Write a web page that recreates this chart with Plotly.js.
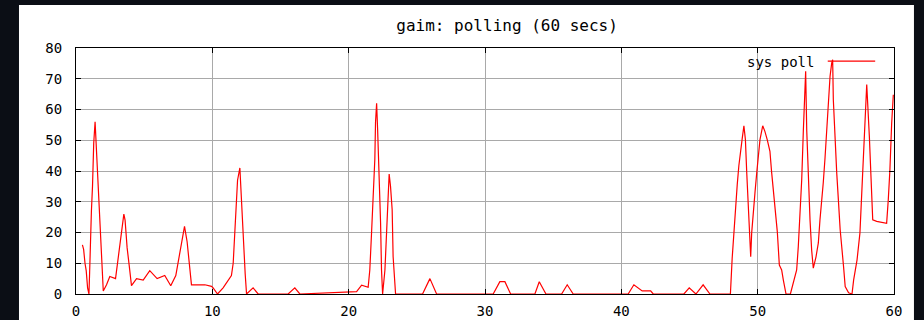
<!DOCTYPE html>
<html>
<head>
<meta charset="utf-8">
<script src="https://cdn.plot.ly/plotly-3.0.1.min.js"></script>
<style>
html,body{margin:0;padding:0;background:#0b0e15;}
#chart{width:924px;height:320px;}
</style>
</head>
<body>
<div id="chart"></div>
<script>
// Series "sys poll": time (secs) and value
var seriesName = "sys poll";
var timeSecs = [
  0.47, 0.56, 0.66, 0.75, 0.85, 0.95, 1.0, 1.07, 1.13, 1.21, 1.3, 1.4, 1.45, 1.5, 1.62, 1.72, 1.82, 1.92, 2.0,
  2.24, 2.48, 2.9, 3.14, 3.29, 3.51, 3.6, 3.75, 3.9, 4.07, 4.44, 4.93, 5.41, 5.95, 6.51, 6.95, 7.32, 7.62,
  7.96, 8.15, 8.47, 9.45, 9.94, 10.06, 10.38, 10.79, 11.11, 11.4, 11.53, 11.72, 11.85, 12.02, 12.14, 12.26,
  12.41, 12.51, 12.99, 13.36, 15.56, 16.05, 16.42, 20.58, 20.95, 21.43, 21.55, 21.68, 21.8, 21.92, 21.97,
  22.05, 22.12, 22.24, 22.34, 22.41, 22.49, 22.66, 22.78, 22.9, 22.97, 23.07, 23.19, 23.26, 23.44,
  25.42, 25.96, 26.45, 30.6, 31.09, 31.46, 31.88, 33.66, 33.98, 34.47, 35.62, 36.03, 36.47,
  40.5, 40.92, 41.53, 42.15, 42.34, 44.59, 44.98, 45.47, 46.0, 46.5, 48.0,
  48.13, 48.25, 48.38, 48.5, 48.62, 48.75, 48.87, 48.99, 49.1, 49.2, 49.3, 49.4, 49.49, 49.56, 49.68, 49.8,
  49.93, 50.05, 50.17, 50.37, 50.53, 50.7, 50.9, 51.02, 51.14, 51.27, 51.44, 51.59, 51.76, 51.88, 52.08,
  52.4, 52.6, 52.86, 52.98, 53.23, 53.35, 53.47, 53.52, 53.6, 53.72, 53.84, 53.96, 54.08, 54.28, 54.45,
  54.57, 54.7, 54.81, 54.94, 55.06, 55.19, 55.31, 55.43, 55.5, 55.55, 55.67, 55.8, 55.92, 56.05, 56.3,
  56.42, 56.67, 56.92, 57.04, 57.29, 57.5, 57.6, 57.8, 58.0, 58.19, 58.29, 58.44, 58.73, 59.46, 59.58,
  59.7, 59.83, 59.95
];
var pollValues = [
  16, 14.5, 10, 7.5, 2, 0, 7, 20, 27, 35, 49, 56, 51, 50, 39, 28, 17, 6.5, 1,
  3, 5.7, 5, 14, 19, 26, 24, 15, 9.4, 2.7, 5, 4.5, 7.6, 5, 6, 2.7, 6, 13.3,
  22, 17, 3, 3, 2.5, 2, 0, 2, 4, 6, 10, 24, 37, 41, 29, 20,
  6.5, 0, 2, 0, 0, 2, 0, 0.8, 2.9, 2.2, 7.8, 20, 31.9, 43.9, 55.8,
  62, 54, 38.8, 23.2, 7.8, 0, 7.8, 19.8, 35, 39, 35, 27.4, 12.2, 0,
  0, 5, 0, 0, 4, 4, 0, 0, 4, 0, 0, 3, 0,
  0, 3, 1, 1, 0, 0, 2, 0, 3, 0, 0,
  11.6, 19.8, 29.5, 35.5, 41.7, 47.4, 50.7, 54.7, 50.2, 39.3, 29.5, 17.6, 12.1, 19.8, 27.4, 32.8,
  39.3, 45.3, 50.2, 54.7, 52.9, 50.2, 46.4, 39.8, 33.9, 27.4, 20.3, 9.4, 7.8, 4.6, 0,
  0, 3.5, 7.8, 15.4, 37.1, 53.1, 68.6, 72.4, 53.1, 37.1, 24.1, 14.3, 8.4, 12.1, 16.6,
  24.1, 29.5, 36.1, 44.2, 53.1, 62.6, 70.8, 75.1, 76.2, 63.2, 50.2, 39.3, 30.6, 21, 8.9,
  2.4, 0.4, 0, 4.6, 11.1, 19.8, 30.1, 51.5, 68.1, 51.5, 40.9, 24.1, 23.6, 23, 30.6,
  40.4, 55.6, 64.8
];
var xTicks = [0, 10, 20, 30, 40, 50, 60];
var yTicks = [0, 10, 20, 30, 40, 50, 60, 70, 80];
var chartTitle = "gaim: polling (60 secs)";

var monoFont = "DejaVu Sans Mono, Liberation Mono, monospace";

var trace = {
  x: timeSecs,
  y: pollValues,
  type: "scatter",
  mode: "lines",
  name: seriesName,
  line: {color: "#ff0000", width: 1.2},
  showlegend: false,
  hoverinfo: "x+y"
};

var axisCommon = {
  showgrid: true,
  gridcolor: "#a9a9a9",
  gridwidth: 1,
  zeroline: false,
  showline: true,
  linecolor: "#000000",
  linewidth: 1,
  mirror: "ticks",
  ticks: "inside",
  ticklen: 5,
  tickwidth: 1,
  tickcolor: "#000000",
  tickfont: {family: monoFont, size: 14, color: "#000000"},
  fixedrange: true
};

var layout = {
  width: 924,
  height: 320,
  margin: {l: 76, r: 30, t: 48, b: 26, pad: 0},
  paper_bgcolor: "#0b0e15",
  plot_bgcolor: "#ffffff",
  title: {
    text: chartTitle,
    font: {family: monoFont, size: 16, color: "#000000"},
    x: 0.527, xref: "paper", xanchor: "center",
    y: 0.922, yref: "container", yanchor: "middle"
  },
  xaxis: Object.assign({}, axisCommon, {
    range: [0, 60],
    tickvals: xTicks,
    ticktext: xTicks.map(String),
    ticklabelstandoff: 4
  }),
  yaxis: Object.assign({}, axisCommon, {
    range: [0, 80],
    tickvals: yTicks,
    ticktext: yTicks.map(String),
    ticklabelstandoff: 10
  }),
  shapes: [
    {type: "rect", xref: "paper", yref: "paper", x0: -0.0697, x1: 1.0244, y0: -0.11, y1: 1.1748,
     fillcolor: "#ffffff", line: {width: 0}, layer: "below"},
    {type: "line", xref: "paper", yref: "paper", x0: 0.919, x1: 0.977, y0: 0.947, y1: 0.947,
     line: {color: "#ff0000", width: 1.2}, layer: "above"}
  ],
  annotations: [
    {text: seriesName, xref: "paper", yref: "paper", x: 0.905, y: 0.945,
     xanchor: "right", yanchor: "middle", showarrow: false,
     font: {family: monoFont, size: 14, color: "#000000"}}
  ]
};

Plotly.newPlot("chart", [trace], layout, {displayModeBar: false, staticPlot: true});
</script>
</body>
</html>
